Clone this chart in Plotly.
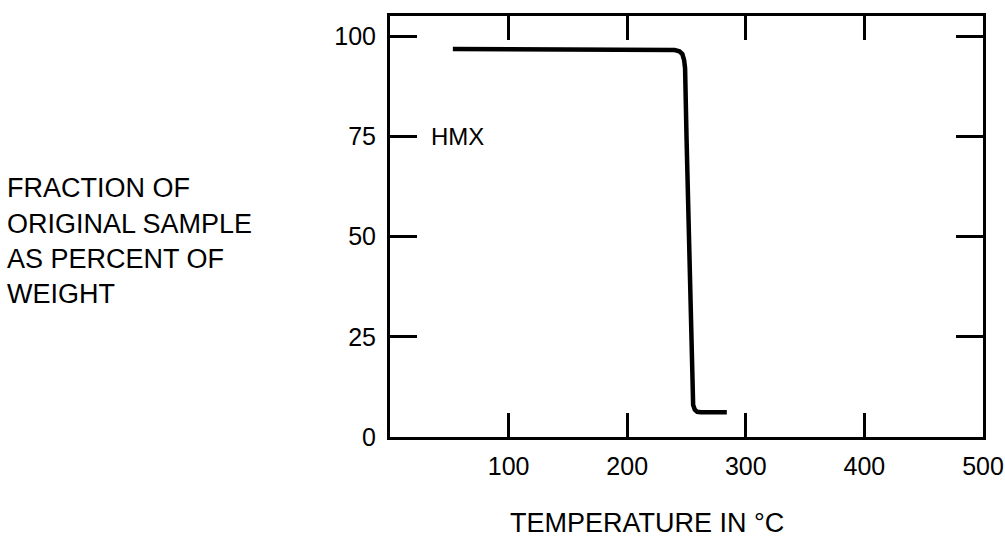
import plotly.graph_objects as go

# Data (temperature in °C, weight percent)
temperature = [53, 100, 150, 200, 240, 244, 246.5, 248, 248.8, 250, 252, 254, 255, 255.6, 257, 259, 262, 284]
weight_pct = [96.8, 96.7, 96.6, 96.5, 96.5, 96.2, 95.5, 94.0, 92.0, 75.0, 50.0, 25.0, 10.0, 8.0, 6.8, 6.3, 6.2, 6.2]

x_ticks = [100, 200, 300, 400, 500]
y_ticks = [0, 25, 50, 75, 100]
y_title_lines = ["FRACTION OF", "ORIGINAL SAMPLE", "AS PERCENT OF", "WEIGHT"]
x_title = "TEMPERATURE IN °C"
series_label = "HMX"

FONT = "Liberation Sans, Arial, Helvetica, sans-serif"

fig = go.Figure()
fig.add_trace(go.Scatter(
    x=temperature, y=weight_pct, mode="lines",
    line=dict(color="black", width=4.5),
    showlegend=False, hoverinfo="skip",
))

L, R, T, B = 390, 22, 16, 101
W, H = 1005, 538
pw = W - L - R
ph = H - T - B

fig.update_layout(
    width=W, height=H, autosize=False,
    margin=dict(l=L, r=R, t=T, b=B, autoexpand=False),
    paper_bgcolor="white", plot_bgcolor="white",
    font=dict(family=FONT, size=24, color="black"),
    showlegend=False,
)
fig.update_xaxes(
    range=[0, 500], tickvals=x_ticks, ticktext=[str(v) for v in x_ticks],
    ticks="inside", ticklen=24, tickwidth=2.5, tickcolor="black",
    showline=True, linewidth=3, linecolor="black", mirror="allticks",
    showgrid=False, zeroline=False, ticklabelstandoff=5, automargin=False,
    tickfont=dict(family=FONT, size=25, color="black"),
)
fig.update_yaxes(
    range=[0, 105], tickvals=y_ticks, ticktext=[str(v) for v in y_ticks],
    ticks="inside", ticklen=27, tickwidth=2.5, tickcolor="black",
    showline=True, linewidth=3, linecolor="black", mirror="allticks",
    showgrid=False, zeroline=False, ticklabelstandoff=6, automargin=False,
    tickfont=dict(family=FONT, size=25, color="black"),
)

# Y title lines (left aligned block at far left)
line_centers = [188, 224, 259, 294]
for txt, yc in zip(y_title_lines, line_centers):
    fig.add_annotation(
        text=txt, xref="paper", yref="paper",
        x=(5 - L) / pw, y=(H - B - yc) / ph,
        xanchor="left", yanchor="middle", showarrow=False,
        font=dict(family=FONT, size=27, color="black"),
    )

# X title
fig.add_annotation(
    text=x_title, xref="paper", yref="paper",
    x=(508 - L) / pw, y=(H - B - 523) / ph,
    xanchor="left", yanchor="middle", showarrow=False,
    font=dict(family=FONT, size=27, color="black"),
)

# Series label
fig.add_annotation(
    text=series_label, xref="x", yref="y", x=33, y=75,
    xanchor="left", yanchor="middle", showarrow=False,
    font=dict(family=FONT, size=24, color="black"),
)

fig.write_html("out.html", config={"displayModeBar": False},
               post_script="document.body.style.margin='0';")
